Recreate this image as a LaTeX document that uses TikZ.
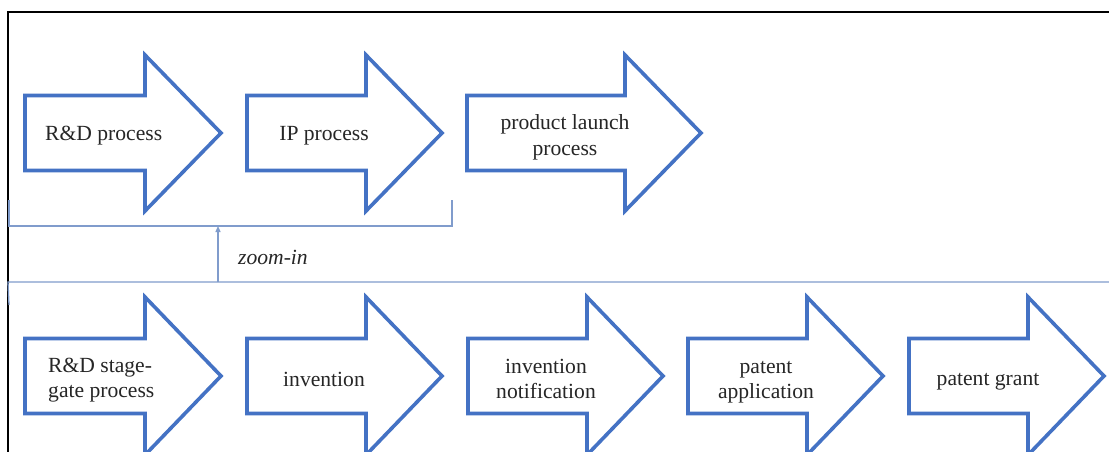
\documentclass[tikz,border=0pt]{standalone}
\usepackage{fontspec}
\setmainfont{Liberation Serif}
\usetikzlibrary{arrows.meta}
\definecolor{arrowblue}{RGB}{68,114,196}
\definecolor{lineblue}{RGB}{128,156,204}
\begin{document}
\begin{tikzpicture}[x=1pt,y=-1pt,
  procarrow/.style={draw=arrowblue,line width=3.6pt,line join=miter,fill=white},
  thinline/.style={draw=lineblue,line width=1.3pt},
  frameline/.style={draw=black,line width=1.8pt},
  label/.style={font=\fontsize{21.6}{25}\selectfont,text=black!85,inner sep=0pt,align=center},
  zoomlabel/.style={font=\fontsize{21.6}{25}\selectfont\itshape,text=black!85,inner sep=0pt}]
\useasboundingbox (0,0) rectangle (1109,452);
\clip (0,0) rectangle (1109,452);
\fill[white] (0,0) rectangle (1109,452);
% frame
\draw[frameline] (8,12) rectangle (1130,480);
% arrow macro: #1 left x, #2 tip y, #3 body length, #4 head half height
\newcommand{\procshape}[4]{%
  \draw[procarrow] (#1,#2-37.5) -- (#1+#3,#2-37.5) -- (#1+#3,#2-#4)
    -- (#1+#3+76,#2) -- (#1+#3,#2+#4) -- (#1+#3,#2+37.5)
    -- (#1,#2+37.5) -- cycle;}
% top row
\procshape{25}{133}{120}{78}
\procshape{247}{133}{119}{78}
\procshape{467}{133}{158}{78}
\node[label,anchor=west] (rd) at (45,136) {R\&D process};
\node[label] (ip) at (324,136) {IP process};
\node[label,font=\fontsize{21.6}{26}\selectfont] (pl) at (565,137) {product launch\\process};
% bracket
\coordinate (bl) at (9,200);
\coordinate (blb) at (9,226);
\coordinate (brb) at (452,226);
\coordinate (br) at (452,200);
\draw[thinline] (bl) -- (blb) -- (brb) -- (br);
% lower line
\coordinate (ll) at (8,282);
\coordinate (lr) at (1109,282);
\coordinate (lt) at (9,305);
\draw[thinline] (lt) -- (ll) -- (lr);
% zoom arrow
\coordinate (zs) at (218,282);
\coordinate (ze) at (218,226);
\draw[thinline,-{Triangle[length=6pt,width=5pt]}] (zs) -- (ze);
\node[zoomlabel,anchor=west] (zl) at (238,257) {zoom-in};
% bottom row
\procshape{25}{376}{120}{79}
\procshape{247}{376}{119}{79}
\procshape{468}{376}{119}{79}
\procshape{688}{376}{119}{79}
\procshape{909}{376}{119}{79}
\node[label,align=left,anchor=west] (rds) at (48,380) {R\&D stage-\\gate process};
\node[label] (inv) at (324,379) {invention};
\node[label] (invn) at (546,379) {invention\\notification};
\node[label] (pa) at (766,382) {patent\\application};
\node[label] (pg) at (988,382) {patent grant};
\end{tikzpicture}
\end{document}
